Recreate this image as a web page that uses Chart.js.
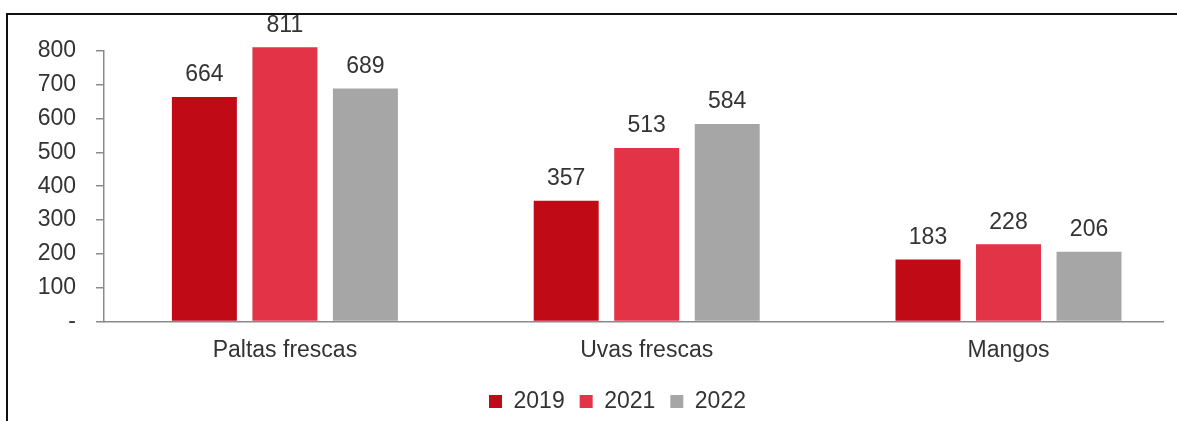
<!DOCTYPE html>
<html>
<head>
<meta charset="utf-8">
<script src="https://cdn.jsdelivr.net/npm/chart.js@4.4.1/dist/chart.umd.min.js"></script>
<style>
  html, body { margin: 0; padding: 0; background: #fff; overflow: hidden; }
  #wrap { position: relative; width: 1177px; height: 421px; }
  #frame { position: absolute; left: 6px; top: 13px; width: 1300px; height: 500px;
           border-top: 2px solid #111; border-left: 2px solid #111; }
  canvas { position: absolute; left: 0; top: 0; }
</style>
</head>
<body>
<div id="wrap">
  <div id="frame"></div>
  <canvas id="c" width="1177" height="421"></canvas>
</div>
<script>
const categories = ['Paltas frescas', 'Uvas frescas', 'Mangos'];
const seriesNames = ['2019', '2021', '2022'];
const values2019 = [664, 357, 183];
const values2021 = [811, 513, 228];
const values2022 = [689, 584, 206];
const yTicks = [0, 100, 200, 300, 400, 500, 600, 700, 800];
const colors = ['#C00A16', '#E33347', '#A6A6A6'];

const FONT = '"Liberation Sans", Arial, sans-serif';
const FS = 23;
const TEXT = '#333333';
const AXIS = '#8a8a8a';

const toPoints = arr => arr.map((v, i) => ({ x: i, y: v }));

const valueLabels = {
  id: 'valueLabels',
  afterDatasetsDraw(chart) {
    const ctx = chart.ctx;
    ctx.save();
    ctx.font = FS + 'px ' + FONT;
    ctx.fillStyle = TEXT;
    ctx.textAlign = 'center';
    ctx.textBaseline = 'middle';
    chart.data.datasets.forEach((ds, di) => {
      const meta = chart.getDatasetMeta(di);
      meta.data.forEach((el, i) => {
        ctx.fillText(String(ds.data[i].y), el.x, el.y - 22);
      });
    });
    ctx.restore();
  }
};

const legendShift = {
  id: 'legendShift',
  afterLayout(chart) {
    const l = chart.legend;
    if (!l) return;
    const dx = 36, dy = 7;
    l.left += dx; l.right += dx; l.top += dy; l.bottom += dy;
  }
};

new Chart(document.getElementById('c'), {
  type: 'bar',
  data: {
    datasets: [
      { label: seriesNames[0], data: toPoints(values2019), backgroundColor: colors[0] },
      { label: seriesNames[1], data: toPoints(values2021), backgroundColor: colors[1] },
      { label: seriesNames[2], data: toPoints(values2022), backgroundColor: colors[2] }
    ]
  },
  options: {
    responsive: false,
    animation: false,
    devicePixelRatio: 1,
    layout: { padding: { left: 0, right: 14, top: 51, bottom: 5 } },
    datasets: { bar: { categoryPercentage: 0.6676, barPercentage: 0.807, clip: false, borderWidth: 0 } },
    plugins: {
      tooltip: { enabled: false },
      legend: {
        position: 'bottom',
        labels: {
          boxWidth: 13, boxHeight: 13, padding: 15,
          color: TEXT, font: { family: FONT, size: FS }
        }
      }
    },
    scales: {
      x: {
        type: 'linear',
        offset: false,
        min: -0.5,
        max: 2.427,
        afterBuildTicks(scale) { scale.ticks = categories.map((_, i) => ({ value: i })); },
        afterFit(scale) { scale.height -= 11; },
        grid: { display: false, drawTicks: false },
        border: { display: true, color: AXIS, width: 1.5 },
        ticks: {
          padding: 15,
          color: TEXT,
          font: { family: FONT, size: FS },
          maxRotation: 0,
          autoSkip: false,
          callback: v => categories[v]
        }
      },
      y: {
        min: 0,
        max: 800,
        afterBuildTicks(scale) { scale.ticks = yTicks.map(v => ({ value: v })); },
        afterFit(scale) { scale.width = 104; },
        grid: { drawOnChartArea: false, drawTicks: true, tickLength: 8, color: AXIS, lineWidth: 1.5 },
        border: { display: true, color: AXIS, width: 1.5 },
        ticks: {
          padding: 20,
          color: TEXT,
          font: { family: FONT, size: FS },
          callback: v => (v === 0 ? '-' : String(v))
        }
      }
    }
  },
  plugins: [valueLabels, legendShift]
});
</script>
</body>
</html>
